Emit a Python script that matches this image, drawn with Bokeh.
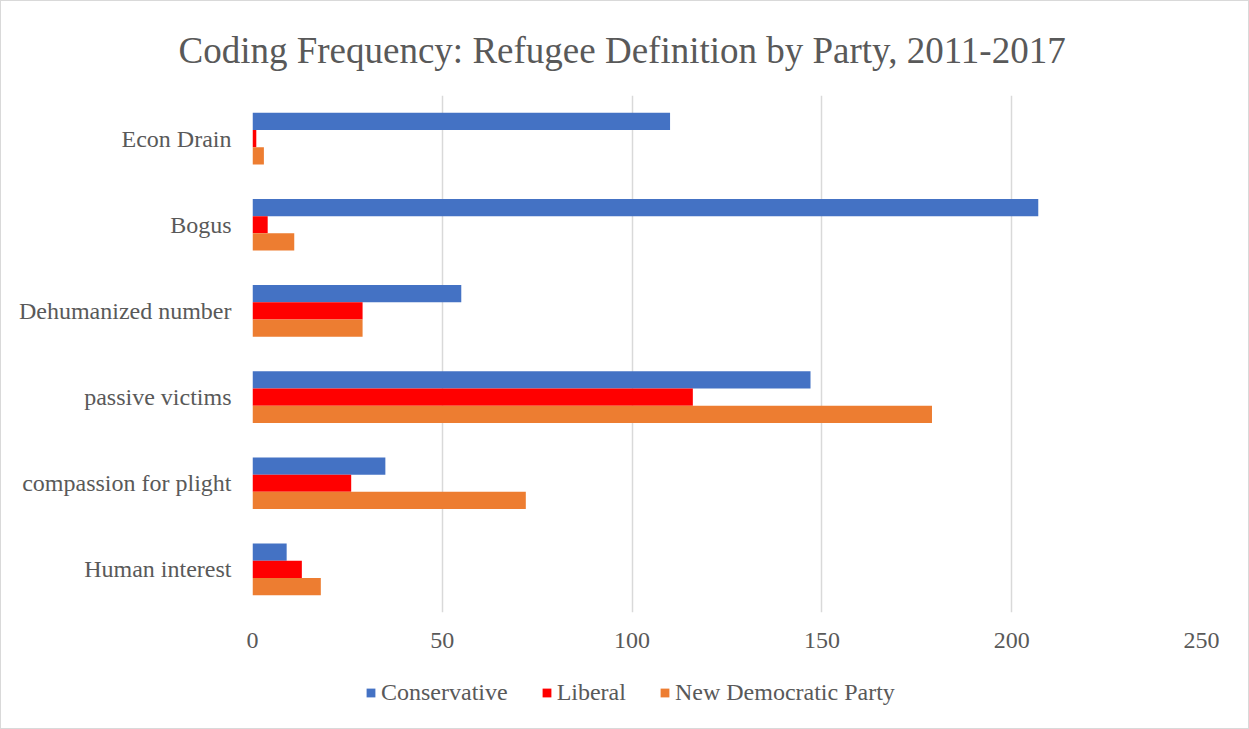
from bokeh.plotting import figure
from bokeh.layouts import column
from bokeh.models import FactorRange, Legend, LegendItem, FixedTicker, ColumnDataSource
from bokeh.transform import dodge
from bokeh.embed import file_html
from bokeh.resources import INLINE

categories = ["Econ Drain", "Bogus", "Dehumanized number", "passive victims",
              "compassion for plight", "Human interest"]
conservative = [110, 207, 55, 147, 35, 9]
liberal = [1, 4, 29, 116, 26, 13]
ndp = [3, 11, 29, 179, 72, 18]
series_names = ["Conservative", "Liberal", "New Democratic Party"]
colors = ["#4472C4", "#FF0000", "#ED7D31"]
x_ticks = [0, 50, 100, 150, 200, 250]

FONT = "Liberation Serif"
TXT = "#595959"

src = ColumnDataSource(dict(cat=categories, con=conservative, lib=liberal, ndp=ndp))

p = figure(
    y_range=FactorRange(factors=list(reversed(categories)), range_padding=0),
    x_range=(0, 250),
    width=1247, height=665,
    output_backend="svg", toolbar_location=None,
    min_border_left=251, min_border_right=47, min_border_top=94, min_border_bottom=54,
)

for col, off, c in zip(["con", "lib", "ndp"], [0.2, 0.0, -0.2], colors):
    p.hbar(y=dodge("cat", off, range=p.y_range), right=col, left=0, height=0.2,
           source=src, fill_color=c, line_color=None)

p.title.text = "Coding Frequency: Refugee Definition by Party, 2011-2017"
p.title.text_font = FONT
p.title.text_font_size = "37px"
p.title.text_font_style = "normal"
p.title.text_color = TXT
p.title.align = "left"
p.title.vertical_align = "top"
p.title.offset = -74
p.title.standoff = 45

p.xaxis.ticker = FixedTicker(ticks=x_ticks)
for ax in (p.xaxis, p.yaxis):
    ax.axis_line_color = None
    ax.major_tick_line_color = None
    ax.minor_tick_line_color = None
    ax.major_tick_out = 0
    ax.major_tick_in = 0
    ax.minor_tick_out = 0
    ax.major_label_text_font = FONT
    ax.major_label_text_font_size = "24px"
    ax.major_label_text_color = TXT
p.xaxis.major_label_standoff = 20
p.yaxis.major_label_standoff = 21

p.xgrid.ticker = FixedTicker(ticks=x_ticks)
p.xgrid.grid_line_color = "#d9d9d9"
p.xgrid.grid_line_width = 1.5
p.ygrid.grid_line_color = None
p.outline_line_color = None

# legend strip: its renderers are hidden, only the legend entries show
p2 = figure(width=1247, height=62, x_range=(-2, -1),
            y_range=FactorRange(factors=list(reversed(categories))),
            output_backend="svg", toolbar_location=None, min_border=0)
p2.axis.visible = False
p2.grid.visible = False
p2.outline_line_color = None
leg_renderers = []
for col, c in zip(["con", "lib", "ndp"], colors):
    leg_renderers.append(p2.hbar(y="cat", right=col, left=0, height=0.2, source=src,
                                 fill_color=c, line_color=None, visible=False))

legend = Legend(
    items=[LegendItem(label=n, renderers=[r]) for n, r in zip(series_names, leg_renderers)],
    orientation="horizontal", location=(113, 22),
    glyph_width=11, glyph_height=11, label_standoff=5, spacing=33,
    padding=0, margin=0, border_line_color=None, background_fill_alpha=0,
    label_text_font=FONT, label_text_font_size="24px", label_text_color=TXT,
)
p2.add_layout(legend, "center")

layout = column(p, p2, spacing=0)
layout.styles = {"border": "1px solid #d9d9d9"}

open("out.html", "w").write(file_html(layout, INLINE))
